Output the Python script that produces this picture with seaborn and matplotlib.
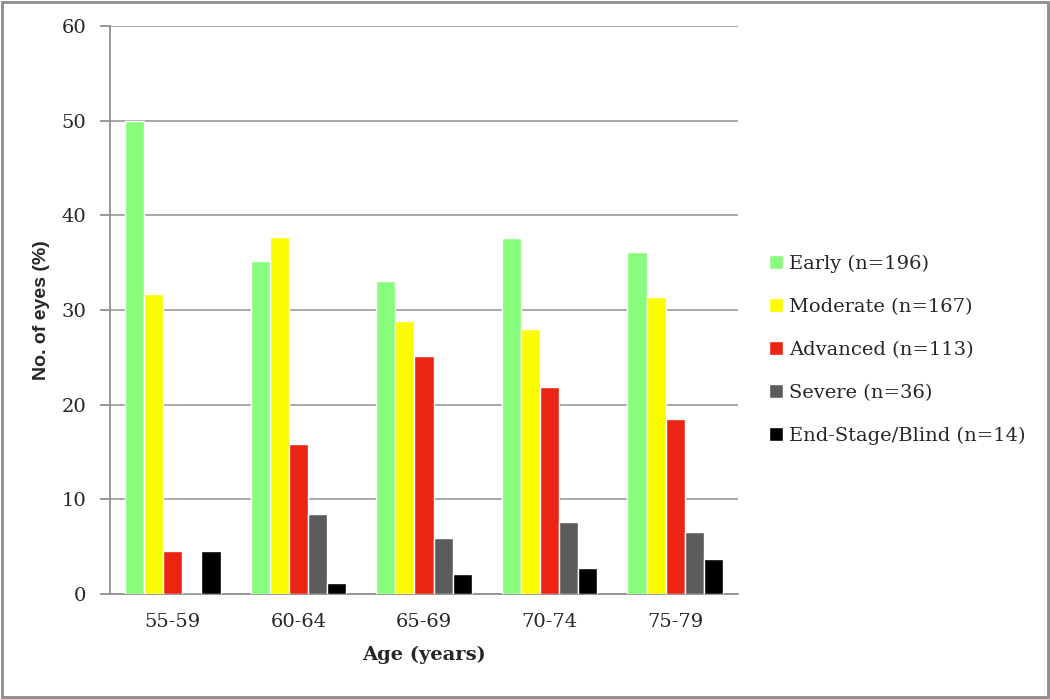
import matplotlib
matplotlib.use("Agg")
import matplotlib.pyplot as plt
import pandas as pd
import seaborn as sns

age_groups = ["55-59", "60-64", "65-69", "70-74", "75-79"]
stages = ["Early (n=196)", "Moderate (n=167)", "Advanced (n=113)",
          "Severe (n=36)", "End-Stage/Blind (n=14)"]
early = [50.0, 35.2, 33.1, 37.6, 36.1]
moderate = [31.7, 37.7, 28.8, 28.0, 31.4]
advanced = [4.5, 15.8, 25.1, 21.9, 18.5]
severe = [0.0, 8.5, 5.9, 7.6, 6.5]
end_stage = [4.5, 1.2, 2.1, 2.7, 3.7]

colors = ["#88fc7c", "#fcfc00", "#ec2414", "#5c5c5c", "#000000"]

rows = []
for stage, vals in zip(stages, [early, moderate, advanced, severe, end_stage]):
    for age, v in zip(age_groups, vals):
        rows.append({"Age": age, "Stage": stage, "Percent": v})
df = pd.DataFrame(rows)

sns.set_style("white")
plt.rcParams["font.family"] = ["DejaVu Serif"]

fig = plt.figure(figsize=(10.5, 6.99), dpi=100)
ax = fig.add_axes([110 / 1050, 105 / 699, 628 / 1050, 568 / 699])

sns.barplot(data=df, x="Age", y="Percent", hue="Stage", palette=colors,
            width=0.76, gap=0, saturation=1, ax=ax, zorder=3)

ax.set_ylim(0, 60)
ax.set_xlim(-0.5, 4.5)
ax.set_yticks(range(0, 61, 10))
ax.yaxis.grid(True, color="#a0a0a0", linewidth=1.3, zorder=0)
ax.set_axisbelow(True)
for side in ["top", "right"]:
    ax.spines[side].set_visible(False)
for side in ["left", "bottom"]:
    ax.spines[side].set_color("#909090")
    ax.spines[side].set_linewidth(1.3)
ax.tick_params(axis="y", length=7, color="#909090", width=1.3, direction="out",
               left=True, labelsize=14, pad=10)
ax.tick_params(axis="x", length=0, labelsize=14, pad=14)

ax.set_xlabel("Age (years)", fontsize=14, fontweight="bold", labelpad=10)
ax.set_ylabel("No. of eyes (%)", fontsize=14, fontweight="bold", labelpad=8,
              family=["Liberation Sans Narrow", "Liberation Sans", "DejaVu Sans"])

ax.legend(title=None, loc="center left", bbox_to_anchor=(1.022, 0.43), frameon=False,
          fontsize=14, handlelength=0.7, handleheight=0.7, handletextpad=0.3,
          labelspacing=1.28)

fig.patches.append(plt.Rectangle((0.002, 0.003), 0.996, 0.994, transform=fig.transFigure,
                                 fill=False, edgecolor="#8c8c8c", linewidth=2))

fig.savefig("out.png", dpi=100)
